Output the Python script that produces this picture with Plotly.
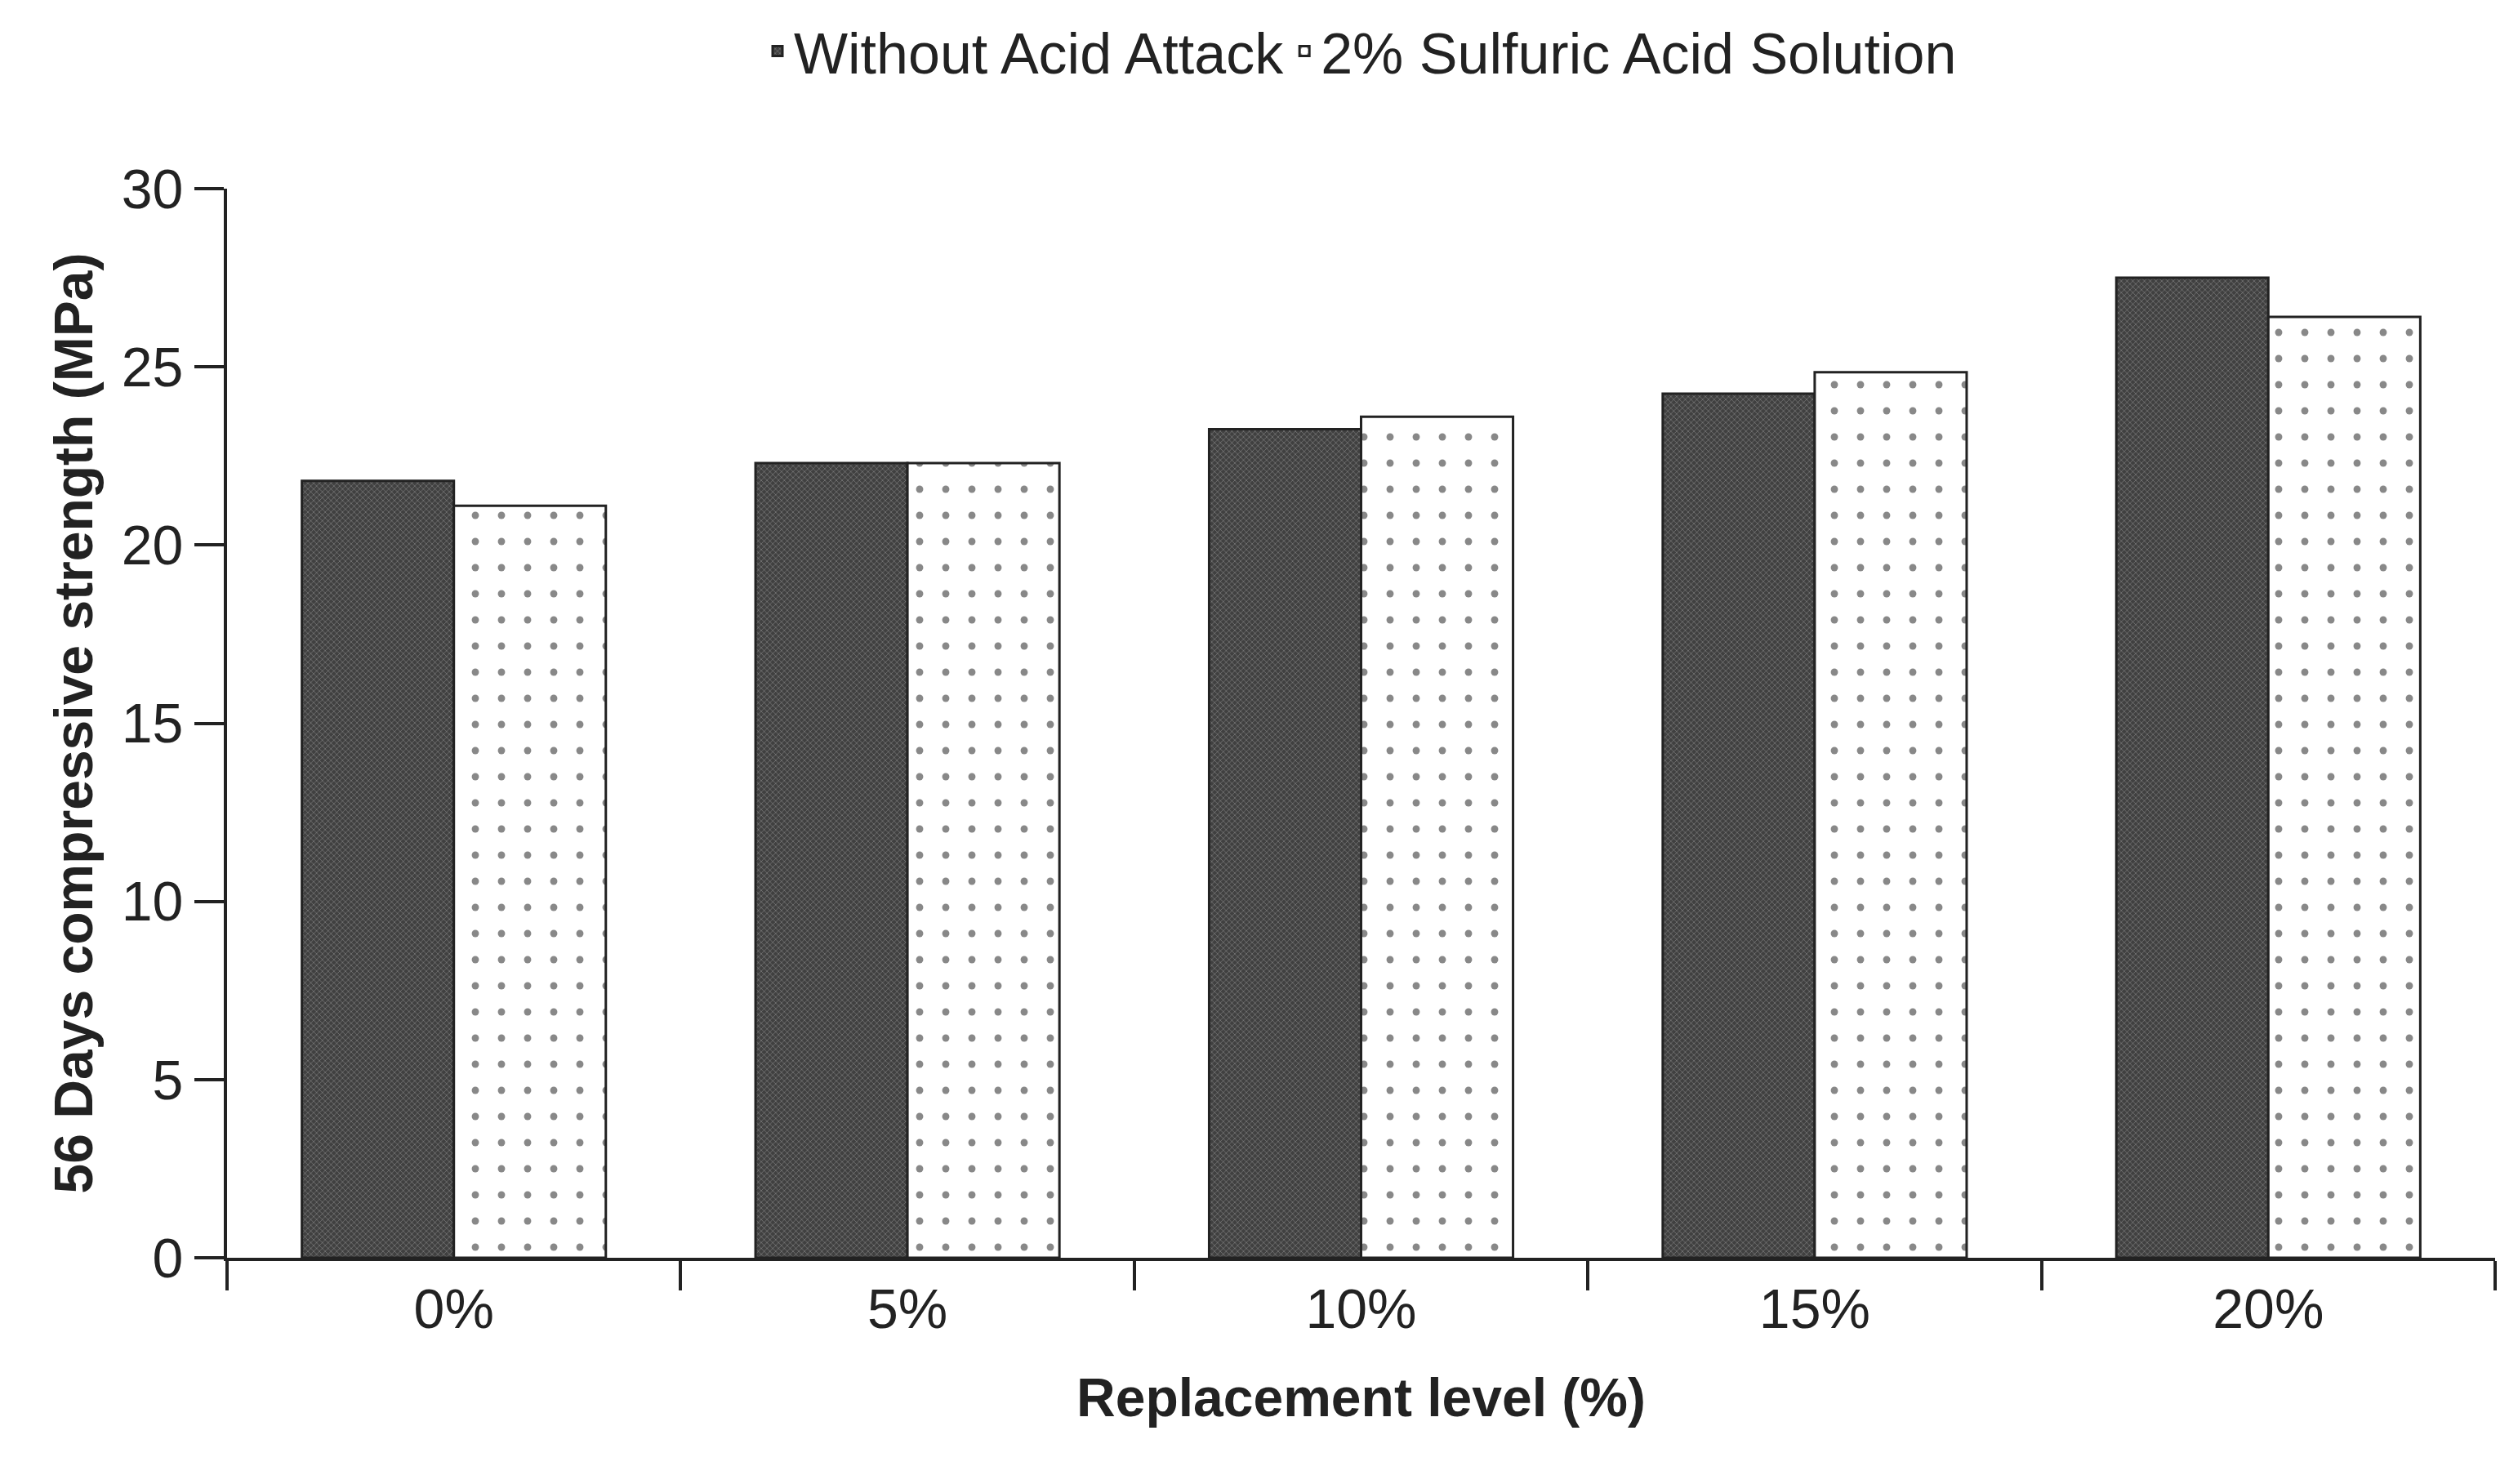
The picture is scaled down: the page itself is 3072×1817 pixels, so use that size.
import plotly.graph_objects as go

categories = ["0%", "5%", "10%", "15%", "20%"]
without_acid = [21.8, 22.3, 23.25, 24.25, 27.5]
sulfuric = [21.1, 22.3, 23.6, 24.85, 26.4]

F = "Liberation Sans, Arial, sans-serif"
fig = go.Figure()
fig.add_bar(x=categories, y=without_acid, name="Without Acid Attack",
            marker=dict(color="#444", line=dict(color="#222", width=3),
                        pattern=dict(shape="x", fgcolor="#aaaaaa", bgcolor="#404040", size=5, solidity=0.3)))
fig.add_bar(x=categories, y=sulfuric, name="2% Sulfuric Acid Solution",
            marker=dict(color="white", line=dict(color="#222", width=3),
                        pattern=dict(shape=".", fgcolor="#111", bgcolor="white", size=32, solidity=0.06)))
fig.update_layout(
    width=3072, height=1817, barmode="group", bargap=0.33, bargroupgap=0,
    plot_bgcolor="white", paper_bgcolor="white",
    margin=dict(l=270, r=25, t=223, b=285, autoexpand=False),
    font=dict(family=F, size=68, color="#222"),
    legend=dict(orientation="h", x=0.5, xanchor="center", yref="container", y=0.97, yanchor="middle",
                font=dict(size=70)),
    xaxis=dict(showline=True, linecolor="#222", linewidth=4, tickson="boundaries",
               ticks="outside", ticklen=36, tickwidth=4, tickcolor="#222",
               title=dict(text="<b>Replacement level (%)</b>", standoff=50, font=dict(size=66))),
    yaxis=dict(range=[0, 30], dtick=5, showline=True, linecolor="#222", linewidth=4,
               ticks="outside", ticklen=36, tickwidth=4, tickcolor="#222", showgrid=False,
               zeroline=False,
               title=dict(text="<b>56 Days compressive strength (MPa)</b>", standoff=15, font=dict(size=66))),
)
fig.write_html("out.html")
